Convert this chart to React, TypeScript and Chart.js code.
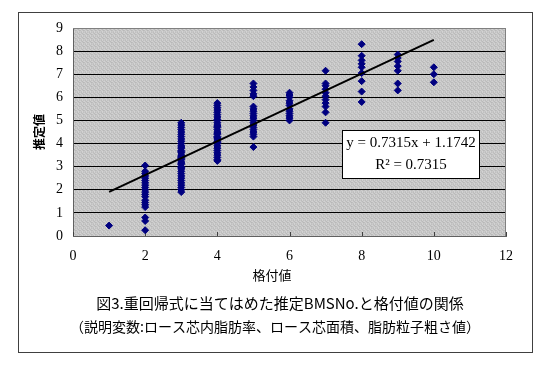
import React, { useEffect, useRef } from 'react';
import { Chart, registerables } from 'chart.js';

Chart.register(...registerables);

// 格付値 (grade) -> 推定BMSNo. values
const grade1 = [0.45];
const grade2 = [3.05, 2.8, 2.7, 2.6, 2.5, 2.4, 2.3, 2.2, 2.1, 2.0, 1.9, 1.8, 1.7, 1.55, 1.45, 1.35, 1.25, 0.8, 0.65, 0.25];
const grade3 = [4.9, 4.8, 4.7, 4.6, 4.5, 4.4, 4.3, 4.2, 4.1, 4.0, 3.9, 3.85, 3.8, 3.7, 3.65, 3.6, 3.5, 3.45, 3.4, 3.35, 3.3, 3.2, 3.15, 3.1, 3.0, 2.95, 2.9, 2.8, 2.7, 2.6, 2.5, 2.4, 2.3, 2.2, 2.1, 2.0, 1.9];
const grade4 = [5.75, 5.65, 5.55, 5.45, 5.35, 5.25, 5.15, 5.05, 5.0, 4.9, 4.8, 4.75, 4.7, 4.6, 4.5, 4.45, 4.4, 4.3, 4.25, 4.2, 4.1, 4.05, 4.0, 3.9, 3.8, 3.7, 3.6, 3.5, 3.4, 3.3, 3.25];
const grade5 = [6.6, 6.45, 6.3, 6.15, 6.05, 5.6, 5.5, 5.4, 5.3, 5.2, 5.1, 5.0, 4.9, 4.8, 4.7, 4.6, 4.5, 4.4, 4.3, 3.85];
const grade6 = [6.2, 6.1, 6.0, 5.85, 5.75, 5.65, 5.5, 5.4, 5.3, 5.2, 5.1, 5.0];
const grade7 = [7.15, 6.6, 6.5, 6.35, 6.2, 6.05, 5.9, 5.75, 5.6, 5.35, 4.9];
const grade8 = [8.3, 7.8, 7.6, 7.45, 7.3, 7.05, 6.7, 6.25, 5.8];
const grade9 = [7.85, 7.7, 7.55, 7.35, 7.15, 6.6, 6.3];
const grade10 = [7.3, 7.0, 6.65];

const grades = [1, 2, 3, 4, 5, 6, 7, 8, 9, 10];
const estimatesByGrade = [grade1, grade2, grade3, grade4, grade5, grade6, grade7, grade8, grade9, grade10];

// Linear trend line shown in the chart
const slope = 0.7315;
const intercept = 1.1742;
const rSquared = 0.7315;
const trendX = [1, 10];

const xAxisTitle = '格付値';
const yAxisTitle = '推定値';
const equationLabel = 'y = 0.7315x + 1.1742';
const rSquaredLabel = 'R² = 0.7315';
const captionLine1 = '図3.重回帰式に当てはめた推定BMSNo.と格付値の関係';
const captionLine2 = '（説明変数:ロース芯内脂肪率、ロース芯面積、脂肪粒子粗さ値）';

const JP = '"Noto Sans CJK JP", sans-serif';
const SERIF = '"Liberation Serif", serif';

function makePattern(ctx: CanvasRenderingContext2D) {
  const c = document.createElement('canvas');
  c.width = 4;
  c.height = 4;
  const p = c.getContext('2d')!;
  const shades = [
    '#c8c8c8', '#bcbcbc', '#d0d0d0', '#c0c0c0',
    '#d2d2d2', '#c4c4c4', '#bababa', '#cccccc',
    '#bebebe', '#cecece', '#c6c6c6', '#b8b8b8',
    '#cacaca', '#c2c2c2', '#d4d4d4', '#c4c4c4',
  ];
  shades.forEach((s, i) => {
    p.fillStyle = s;
    p.fillRect(i % 4, Math.floor(i / 4), 1, 1);
  });
  return ctx.createPattern(c, 'repeat');
}

const framePlugin = {
  id: 'frame',
  beforeDraw(chart: any) {
    const { ctx, chartArea: a } = chart;
    ctx.save();
    ctx.fillStyle = '#ffffff';
    ctx.fillRect(0, 0, chart.width, chart.height);
    ctx.strokeStyle = '#404040';
    ctx.lineWidth = 1;
    ctx.strokeRect(18.5, 12.5, 514, 340);
    ctx.fillStyle = makePattern(ctx) || '#c4c4c4';
    ctx.fillRect(a.left, a.top, a.right - a.left, a.bottom - a.top);
    ctx.restore();
  },
  beforeDatasetsDraw(chart: any) {
    const { ctx, chartArea: a, scales } = chart;
    ctx.save();
    ctx.strokeStyle = '#808080';
    ctx.lineWidth = 1;
    ctx.beginPath();
    ctx.moveTo(a.left, a.top + 0.5);
    ctx.lineTo(a.right, a.top + 0.5);
    ctx.moveTo(a.right - 0.5, a.top);
    ctx.lineTo(a.right - 0.5, a.bottom);
    ctx.stroke();
    ctx.strokeStyle = '#404040';
    ctx.beginPath();
    scales.x.ticks.forEach((t: any) => {
      const px = Math.round(scales.x.getPixelForValue(t.value)) + 0.5;
      ctx.moveTo(px, a.bottom);
      ctx.lineTo(px, a.bottom - 4);
    });
    ctx.stroke();
    ctx.restore();
  },
  afterDraw(chart: any) {
    const { ctx, chartArea: a } = chart;
    ctx.save();
    // equation box
    const bx = a.left + 269.5;
    const by = a.top + 102.5;
    const bw = 137;
    const bh = 48;
    ctx.fillStyle = '#ffffff';
    ctx.fillRect(bx, by, bw, bh);
    ctx.strokeStyle = '#000000';
    ctx.lineWidth = 1;
    ctx.strokeRect(bx, by, bw, bh);
    ctx.fillStyle = '#000000';
    ctx.font = '15px ' + SERIF;
    ctx.textAlign = 'center';
    ctx.textBaseline = 'middle';
    ctx.fillText(equationLabel, bx + bw / 2, by + 13);
    ctx.fillText(rSquaredLabel, bx + bw / 2, by + 35);
    // x axis title
    ctx.font = '13px ' + JP;
    ctx.fillText(xAxisTitle, 272, 275);
    // caption
    ctx.font = '15px ' + JP;
    ctx.fillText(captionLine1, 280, 303);
    ctx.font = '14px ' + JP;
    ctx.fillText(captionLine2, 275, 327);
    ctx.restore();
  },
};

export default function App() {
  const ref = useRef<HTMLCanvasElement>(null);

  useEffect(() => {
    if (!ref.current) return;
    const points: { x: number; y: number }[] = [];
    grades.forEach((g, i) => estimatesByGrade[i].forEach((v) => points.push({ x: g, y: v })));
    const trend = trendX.map((x) => ({ x, y: slope * x + intercept }));
    void rSquared;

    const chart = new Chart(ref.current, {
      type: 'scatter',
      data: {
        datasets: [
          {
            type: 'line',
            label: 'trend',
            data: trend,
            borderColor: '#000000',
            borderWidth: 2,
            pointRadius: 0,
            showLine: true,
            fill: false,
          } as any,
          {
            label: '推定値',
            data: points,
            backgroundColor: '#000080',
            borderColor: '#000080',
            borderWidth: 1,
            pointStyle: 'rectRot',
            pointRadius: 3.5,
          },
        ],
      },
      options: {
        responsive: false,
        animation: false,
        devicePixelRatio: 1,
        layout: { padding: { left: 0, top: 28, right: 44, bottom: 0 } },
        plugins: {
          legend: { display: false },
          tooltip: { enabled: false },
          title: { display: false },
        },
        scales: {
          x: {
            type: 'linear',
            min: 0,
            max: 12,
            ticks: {
              stepSize: 2,
              padding: 12,
              color: '#000000',
              font: { family: SERIF, size: 14 },
            },
            grid: { drawOnChartArea: false, drawTicks: false },
            border: { display: true, color: '#606060', width: 1 },
            afterFit: (s: any) => {
              s.height = 134;
            },
          },
          y: {
            type: 'linear',
            min: 0,
            max: 9,
            ticks: {
              stepSize: 1,
              padding: 10,
              color: '#000000',
              font: { family: SERIF, size: 14 },
            },
            grid: {
              drawTicks: false,
              color: (c: any) => (c.tick && c.tick.value > 0 && c.tick.value < 9 ? '#000000' : 'rgba(0,0,0,0)'),
              lineWidth: 1,
            },
            border: { display: true, color: '#606060', width: 1 },
            title: {
              display: true,
              text: yAxisTitle,
              color: '#000000',
              font: { family: JP, size: 12, weight: 'bold' },
              padding: { top: 32, bottom: 0 },
            },
            afterFit: (s: any) => {
              s.width = 73;
            },
          },
        },
      },
      plugins: [framePlugin],
    });
    return () => chart.destroy();
  }, []);

  return (
    <div style={{ position: 'absolute', left: 0, top: 0, width: 550, height: 370 }}>
      <canvas ref={ref} width={550} height={370} />
    </div>
  );
}
